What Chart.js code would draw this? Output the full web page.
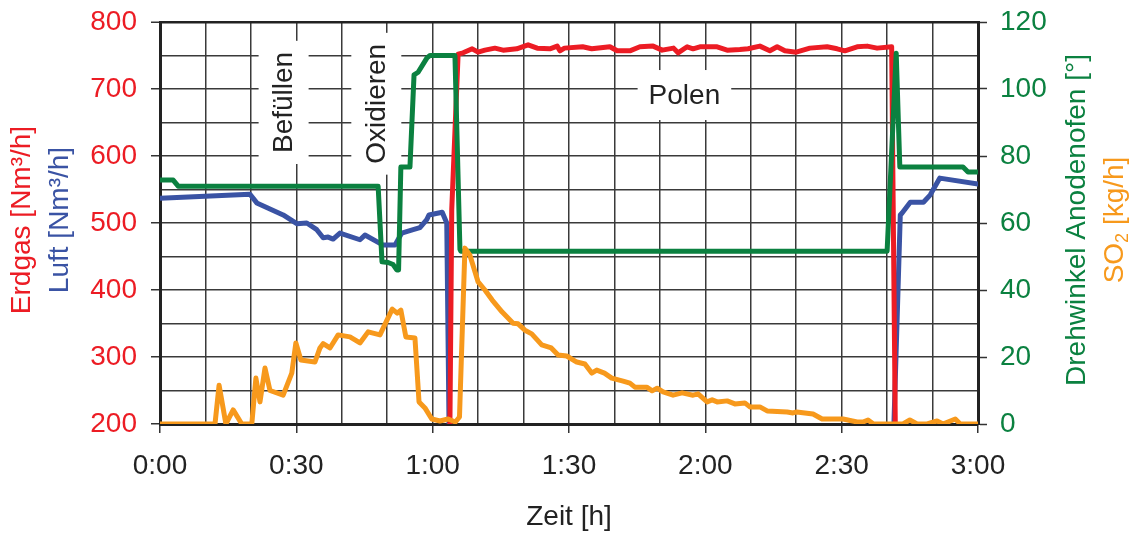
<!DOCTYPE html>
<html>
<head>
<meta charset="utf-8">
<script src="https://cdn.jsdelivr.net/npm/chart.js@4.4.0/dist/chart.umd.min.js"></script>
<style>
  html, body { margin: 0; padding: 0; background: #fff; }
</style>
</head>
<body>
<canvas id="chart" width="1137" height="534"></canvas>
<script>
// time in minutes
const gasTime = [63.8, 64.2, 65.6, 66.7, 68.7, 70.0, 71.5, 73.7, 75.5, 78.5, 81.0, 83.0, 85.8, 87.4, 88.0, 89.0, 93.0, 95.0, 99.0, 100.6, 103.4, 105.6, 108.5, 110.5, 113.0, 114.0, 116.0, 117.3, 118.8, 122.6, 124.8, 127.6, 129.4, 132.0, 134.2, 135.8, 137.5, 140.0, 143.0, 146.8, 149.0, 150.7, 153.4, 155.6, 157.8, 161.0, 161.8];
const gasFlow = [200, 520, 752, 754, 760, 755, 758, 761, 758, 760, 766, 761, 760, 764, 757, 761, 763, 760, 763, 757, 757, 763, 764, 758, 761, 754, 763, 760, 763, 763, 758, 759, 760, 764, 757, 763, 757, 755, 761, 763, 760, 757, 763, 764, 761, 763, 200];

const airTime = [0, 19.8, 21.3, 27.1, 30.1, 32.3, 34.5, 35.9, 37.0, 38.1, 39.6, 44.0, 45.1, 49.1, 51.7, 53.2, 55.7, 57.2, 58.7, 59.2, 62.1, 63.1, 63.6, 100, 161.5, 162.9, 163.3, 165.1, 168.0, 169.5, 171.6, 180];
const airFlow = [537, 543, 530, 512, 499, 500, 490, 478, 479, 476, 485, 475, 482, 467, 467, 485, 490, 493, 505, 512, 516, 500, 200, null, 200, 512, 515, 531, 531, 542, 567, 558];

const angleTime = [0, 2.9, 4.0, 48.0, 48.85, 50.2, 51.3, 52.1, 52.5, 53.0, 55.0, 55.9, 56.8, 58.75, 59.4, 64.9, 66.0, 66.2, 160.0, 162.0, 162.8, 176.7, 177.8, 180];
const angle = [72.8, 72.8, 71, 71, 48.4, 48.2, 47.6, 46, 46, 76.7, 76.7, 104.2, 105, 109.3, 110, 110, 52.2, 51.6, 51.6, 110.7, 76.7, 76.7, 75.2, 75.2];

const so2Time = [0, 12.1, 13.0, 14.5, 16.1, 18.0, 20.2, 21.1, 22.0, 23.1, 24.2, 27.1, 29.0, 29.9, 31.0, 34.1, 35.2, 35.9, 37.4, 39.2, 41.8, 44.0, 45.8, 48.4, 51.1, 52.2, 53.0, 54.1, 56.1, 57.0, 58.3, 59.8, 61.6, 63.4, 65.0, 65.9, 67.1, 68.2, 70.0, 71.5, 73.1, 75.3, 77.7, 78.8, 80.3, 81.8, 84.0, 86.1, 87.6, 89.5, 91.7, 93.5, 95.0, 96.1, 97.8, 99.4, 101.9, 103.4, 104.5, 107.1, 108.3, 109.4, 110.7, 112.9, 114.9, 117.3, 118.4, 120.4, 121.5, 122.6, 124.8, 126.5, 128.7, 129.8, 132.0, 133.6, 138.0, 139.3, 140.1, 143.7, 145.7, 150.3, 153.4, 154.7, 155.8, 157.0, 163.5, 165.0, 166.6, 168.8, 171.0, 172.3, 175.0, 176.1, 180];
const so2 = [0, 0, 11.6, 0, 4.2, 0, 0, 13.7, 6.6, 16.7, 10, 8.6, 15.2, 24.2, 19.1, 18.5, 22.7, 24, 22.7, 26.6, 26, 24.2, 27.5, 26.6, 34.3, 33.1, 34, 26, 25.7, 6.6, 4.8, 1.5, 0.9, 1.5, 0.6, 2.1, 52.5, 50.4, 42.4, 40, 37, 33.4, 30.1, 29.9, 28, 26.9, 23.6, 22.7, 20.6, 20.3, 18.5, 17.9, 15.2, 16.1, 15.2, 13.7, 12.8, 12.2, 11, 11, 9.9, 10.7, 9.6, 8.6, 9.3, 8.6, 9, 6.6, 7.2, 6.6, 6.9, 6, 6.3, 5.1, 5.1, 3.9, 3.6, 3.3, 3.6, 3, 1.5, 1.5, 0.6, 0.6, 1.2, 0, 0, 1.2, 0, 0, 0.9, 0, 1.5, 0, 0];

const phaseLabels = ['Befüllen', 'Oxidieren', 'Polen'];
const phaseTime = [27.2, 47.6, 115.4];
const phaseLevel = [680, 678, 691];
const phaseVertical = [true, true, false];

const RED = '#ec1c24', BLUE = '#3a53a4', GREEN = '#0b8140', ORANGE = '#f7991c';
const FONT_FAMILY = '"Liberation Sans", Arial, Helvetica, sans-serif';
const FONT = '28px ' + FONT_FAMILY;
const LINE_W = 5;

function pts(ts, vs) {
    return ts.map((t, i) => ({ x: t, y: vs[i] }));
}

function fmtTime(v) {
    return Math.floor(v / 60) + ':' + String(v % 60).padStart(2, '0');
}

const textPlugin = {
    id: 'texts',
    beforeDatasetsDraw(chart) {
        const { ctx, scales: { x, y } } = chart;
        ctx.save();
        ctx.font = FONT;
        ctx.textAlign = 'center';
        ctx.textBaseline = 'middle';
        phaseLabels.forEach((label, i) => {
            const px = x.getPixelForValue(phaseTime[i]);
            const py = y.getPixelForValue(phaseLevel[i]);
            const w = ctx.measureText(label).width;
            ctx.save();
            ctx.translate(px, py);
            if (phaseVertical[i]) ctx.rotate(-Math.PI / 2);
            ctx.fillStyle = '#fff';
            ctx.fillRect(-w / 2 - 11, -25, w + 22, 50);
            ctx.fillStyle = '#222';
            ctx.fillText(label, 0, 1);
            ctx.restore();
        });
        ctx.restore();
    },
    afterDraw(chart) {
        const { ctx, chartArea: a } = chart;
        const midY = (a.top + a.bottom) / 2 - 3;
        ctx.save();
        ctx.font = FONT;
        ctx.textAlign = 'center';
        ctx.textBaseline = 'middle';

        const vText = (txt, cx, color) => {
            ctx.save();
            ctx.translate(cx, midY);
            ctx.rotate(-Math.PI / 2);
            ctx.fillStyle = color;
            ctx.fillText(txt, 0, 0);
            ctx.restore();
        };
        vText('Erdgas [Nm³/h]', 22, RED);
        vText('Luft [Nm³/h]', 60, BLUE);
        vText('Drehwinkel Anodenofen [°]', 1077, GREEN);

        // SO2 with subscript
        ctx.save();
        ctx.translate(1115, midY);
        ctx.rotate(-Math.PI / 2);
        ctx.fillStyle = ORANGE;
        ctx.textAlign = 'left';
        const p1 = 'SO', p3 = ' [kg/h]';
        ctx.font = FONT;
        const w1 = ctx.measureText(p1).width;
        const w3 = ctx.measureText(p3).width;
        ctx.font = '18px ' + FONT_FAMILY;
        const w2 = ctx.measureText('2').width;
        const start = -(w1 + w2 + w3) / 2;
        ctx.font = FONT;
        ctx.fillText(p1, start, 0);
        ctx.font = '18px ' + FONT_FAMILY;
        ctx.fillText('2', start + w1, 8);
        ctx.font = FONT;
        ctx.fillText(p3, start + w1 + w2, 0);
        ctx.restore();

        ctx.fillStyle = '#222';
        ctx.fillText('Zeit [h]', (a.left + a.right) / 2, 517);
        ctx.restore();
    }
};

const gridColor = '#3a3a3a';

function fitY(width) {
    return s => {
        s.width = width;
        s.paddingTop = 0;
        s.paddingBottom = 0;
    };
}

new Chart(document.getElementById('chart'), {
    type: 'line',
    data: {
        datasets: [
            { label: 'SO2', data: pts(so2Time, so2), yAxisID: 'y2', borderColor: ORANGE, borderWidth: LINE_W, order: 1 },
            { label: 'Drehwinkel', data: pts(angleTime, angle), yAxisID: 'y2', borderColor: GREEN, borderWidth: LINE_W, order: 2 },
            { label: 'Erdgas', data: pts(gasTime, gasFlow), yAxisID: 'y', borderColor: RED, borderWidth: LINE_W, order: 3 },
            { label: 'Luft', data: pts(airTime, airFlow), yAxisID: 'y', borderColor: BLUE, borderWidth: LINE_W, order: 4 }
        ]
    },
    options: {
        responsive: false,
        animation: false,
        devicePixelRatio: 1,
        layout: { padding: { top: 22, left: 0, right: 0, bottom: 0 } },
        plugins: { legend: { display: false }, tooltip: { enabled: false } },
        elements: {
            point: { radius: 0 },
            line: { tension: 0, fill: false, borderJoinStyle: 'round', borderCapStyle: 'round' }
        },
        scales: {
            x: {
                type: 'linear', min: 0, max: 180,
                afterFit: s => { s.height = 110; },
                ticks: {
                    stepSize: 10, autoSkip: false, maxRotation: 0, padding: 16,
                    color: '#222', font: { family: FONT_FAMILY, size: 28 },
                    callback: v => v % 30 === 0 ? fmtTime(v) : ''
                },
                grid: {
                    color: gridColor, lineWidth: 1.5, tickLength: 9, tickWidth: 1.5,
                    tickColor: c => c.tick && c.tick.value % 30 === 0 ? '#333' : 'rgba(0,0,0,0)'
                },
                border: { color: '#222', width: 3 }
            },
            y: {
                position: 'left', min: 200, max: 800,
                afterFit: fitY(160),
                ticks: {
                    stepSize: 50, autoSkip: false, padding: 14,
                    color: RED, font: { family: FONT_FAMILY, size: 28 },
                    callback: v => v % 100 === 0 ? v : ''
                },
                grid: {
                    color: c => c.tick && c.tick.value === 800 ? '#222' : gridColor,
                    lineWidth: c => c.tick && c.tick.value === 800 ? 2.5 : 1.5,
                    tickLength: 9, tickWidth: 1.5,
                    tickColor: c => c.tick && c.tick.value % 100 === 0 ? '#333' : 'rgba(0,0,0,0)'
                },
                border: { color: '#222', width: 3 }
            },
            y2: {
                position: 'right', min: 0, max: 120,
                afterFit: fitY(159),
                ticks: {
                    stepSize: 10, autoSkip: false, padding: 13,
                    color: GREEN, font: { family: FONT_FAMILY, size: 28 },
                    callback: v => v % 20 === 0 ? v : ''
                },
                grid: {
                    drawOnChartArea: false, tickLength: 9, tickWidth: 1.5,
                    tickColor: c => c.tick && c.tick.value % 20 === 0 ? '#333' : 'rgba(0,0,0,0)'
                },
                border: { color: '#222', width: 3 }
            }
        }
    },
    plugins: [textPlugin]
});
</script>
</body>
</html>
